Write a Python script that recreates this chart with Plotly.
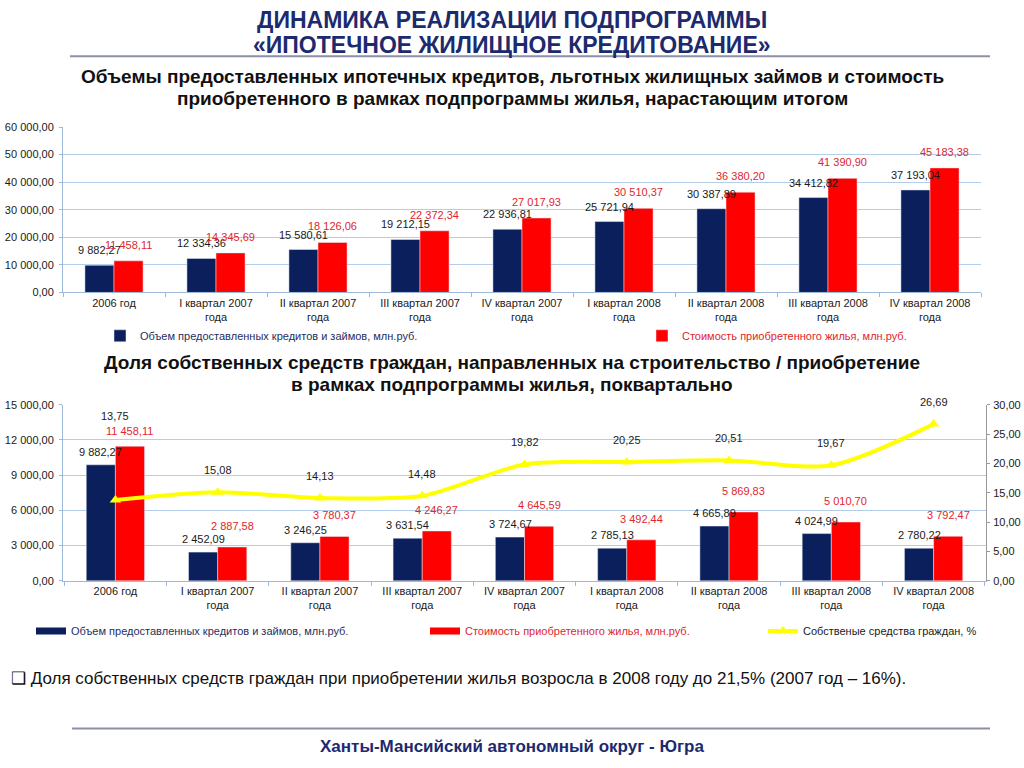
import plotly.graph_objects as go

categories = ["2006 год", "I квартал 2007<br>года", "II квартал 2007<br>года",
              "III квартал 2007<br>года", "IV квартал 2007<br>года",
              "I квартал 2008<br>года", "II квартал 2008<br>года",
              "III квартал 2008<br>года", "IV квартал 2008<br>года"]

# top chart (cumulative)
cum_loans = [9882.27, 12334.36, 15580.61, 19212.15, 22936.81, 25721.94, 30387.89, 34412.82, 37193.04]
cum_housing = [11458.11, 14345.69, 18126.06, 22372.34, 27017.93, 30510.37, 36380.20, 41390.90, 45183.38]

# bottom chart (quarterly)
q_loans = [9882.27, 2452.09, 3246.25, 3631.54, 3724.67, 2785.13, 4665.89, 4024.99, 2780.22]
q_housing = [11458.11, 2887.58, 3780.37, 4246.27, 4645.59, 3492.44, 5869.83, 5010.70, 3792.47]
own_share = [13.75, 15.08, 14.13, 14.48, 19.82, 20.25, 20.51, 19.67, 26.69]

name_loans = "Объем предоставленных кредитов и займов, млн.руб."
name_housing = "Стоимость приобретенного жилья, млн.руб."
name_share = "Собственые средства граждан, %"

NAVY = "#0B1F5C"
RED = "#FF0000"
LABEL_RED = "#E0262E"
YEL = "#FFFF00"
GRID = "#B4CDE8"
AX = "#9DB9DA"
TXT = "#1A1A1A"
TITLE_NAVY = "#1C2A6E"
FONT = "Liberation Sans, Arial, sans-serif"

W, H = 1024, 768


def px(x):
    return x / W


def py(y):
    return 1 - y / H


def fmt(v):
    s = f"{v:,.2f}"
    return s.replace(",", " ").replace(".", ",")


fig = go.Figure()

# ---- top chart
fig.add_trace(go.Bar(x=categories, y=cum_loans, name=name_loans, marker_color=NAVY,
                     xaxis="x", yaxis="y", legend="legend"))
fig.add_trace(go.Bar(x=categories, y=cum_housing, name=name_housing, marker_color=RED,
                     xaxis="x", yaxis="y", legend="legend2"))

# ---- bottom chart
fig.add_trace(go.Bar(x=categories, y=q_loans, name=name_loans, marker_color=NAVY,
                     xaxis="x2", yaxis="y2", showlegend=False))
fig.add_trace(go.Bar(x=categories, y=q_housing, name=name_housing, marker_color=RED,
                     xaxis="x2", yaxis="y2", showlegend=False))
# legend-only entries giving wide rectangle symbols
fig.add_trace(go.Scatter(x=[None], y=[None], mode="lines", line=dict(color=NAVY, width=7),
                         name=name_loans, xaxis="x2", yaxis="y2", legend="legend3"))
fig.add_trace(go.Scatter(x=[None], y=[None], mode="lines", line=dict(color=RED, width=7),
                         name=name_housing, xaxis="x2", yaxis="y2", legend="legend4"))
fig.add_trace(go.Scatter(x=categories, y=own_share, name=name_share, mode="lines+markers",
                         line=dict(color=YEL, width=4, shape="spline", smoothing=0.8),
                         marker=dict(symbol="triangle-up", size=10, color=YEL),
                         xaxis="x2", yaxis="y3", legend="legend5"))

ann = []
# data labels
for i, c in enumerate(categories):
    ann.append(dict(x=c, y=cum_loans[i], xref="x", yref="y", text=fmt(cum_loans[i]),
                    showarrow=False, xshift=-14.5, yshift=15, font=dict(size=11, color=TXT, family=FONT)))
    ann.append(dict(x=c, y=cum_housing[i], xref="x", yref="y", text=fmt(cum_housing[i]),
                    showarrow=False, xshift=14.5, yshift=16, font=dict(size=11, color=LABEL_RED, family=FONT)))
    ann.append(dict(x=c, y=q_loans[i], xref="x2", yref="y2", text=fmt(q_loans[i]),
                    showarrow=False, xshift=-14.5, yshift=13, font=dict(size=11, color=TXT, family=FONT)))
    ann.append(dict(x=c, y=q_housing[i], xref="x2", yref="y2", text=fmt(q_housing[i]),
                    showarrow=False, xshift=14.5, yshift=15 if i == 0 else 21,
                    font=dict(size=11, color=LABEL_RED, family=FONT)))
    ann.append(dict(x=c, y=own_share[i], xref="x2", yref="y3", text=f"{own_share[i]:.2f}".replace(".", ","),
                    showarrow=False, yshift=84 if i == 0 else 22, font=dict(size=11, color=TXT, family=FONT)))


def text_ann(x, y, text, size, color, xanchor="center"):
    return dict(x=px(x), y=py(y), xref="paper", yref="paper", showarrow=False,
                xanchor=xanchor, yanchor="middle", text=text,
                font=dict(size=size, color=color, family=FONT))


ann += [
    text_ann(512, 14, "<b>ДИНАМИКА РЕАЛИЗАЦИИ ПОДПРОГРАММЫ</b>", 23, TITLE_NAVY),
    text_ann(512, 40, "<b>«ИПОТЕЧНОЕ ЖИЛИЩНОЕ КРЕДИТОВАНИЕ»</b>", 23, TITLE_NAVY),
    text_ann(512, 72, "<b>Объемы предоставленных ипотечных кредитов, льготных жилищных займов и стоимость</b>",
             19, "#111111"),
    text_ann(512, 94, "<b>приобретенного в рамках подпрограммы жилья, нарастающим итогом</b>", 19, "#111111"),
    text_ann(512, 362, "<b>Доля собственных средств граждан, направленных на строительство / приобретение</b>",
             19, "#111111"),
    text_ann(512, 385, "<b>в рамках подпрограммы жилья, поквартально</b>", 19, "#111111"),
    text_ann(9, 683, "❑ Доля собственных средств граждан при приобретении жилья возросла в 2008 году до 21,5% "
                     "(2007 год – 16%).", 17, "#111111", xanchor="left"),
    text_ann(512, 752, "<b>Ханты-Мансийский автономный округ - Югра</b>", 17, TITLE_NAVY),
]

shapes = [
    dict(type="line", xref="paper", yref="paper", x0=px(70), x1=px(990),
         y0=py(51), y1=py(51), line=dict(color="#8C90A6", width=2)),
    dict(type="line", xref="paper", yref="paper", x0=px(72), x1=px(990),
         y0=py(734), y1=py(734), line=dict(color="#8C90A6", width=2)),
]

tickfont = dict(size=11, color=TXT, family=FONT)
xcommon = dict(type="category", tickfont=tickfont, showline=True, linecolor=AX, linewidth=1,
               ticks="outside", tickson="boundaries", ticklen=4, tickcolor=AX, showgrid=False)


def legend_cfg(x, y, color):
    return dict(x=px(x), y=py(y), xanchor="left", yanchor="middle", orientation="h",
                bgcolor="rgba(0,0,0,0)", font=dict(size=11, color=color, family=FONT),
                itemwidth=30, tracegroupgap=0)


fig.update_layout(
    width=W, height=H,
    margin=dict(l=0, r=0, t=0, b=0),
    paper_bgcolor="white", plot_bgcolor="rgba(0,0,0,0)",
    separators=", ",
    barmode="group", bargap=0.43, bargroupgap=0,
    font=dict(family=FONT, size=11, color=TXT),
    xaxis=dict(domain=[px(63), px(981)], anchor="y", **xcommon),
    yaxis=dict(domain=[py(291), py(123)], anchor="x", range=[0, 60000], dtick=10000,
               tickformat=",.2f", tickfont=tickfont, showgrid=True, gridcolor=GRID, gridwidth=1,
               showline=True, linecolor=AX, zeroline=False, ticks="outside", ticklen=3, tickcolor=AX,
               ticklabelstandoff=3),
    xaxis2=dict(domain=[px(63), px(986)], anchor="y2", **xcommon),
    yaxis2=dict(domain=[py(584), py(405)], anchor="x2", range=[0, 15000], dtick=3000,
                tickformat=",.2f", tickfont=tickfont, showgrid=True, gridcolor=GRID, gridwidth=1,
                showline=True, linecolor=AX, zeroline=False, ticks="outside", ticklen=3, tickcolor=AX,
                ticklabelstandoff=3),
    yaxis3=dict(anchor="x2", overlaying="y2", side="right", range=[0, 30], dtick=5,
                tickformat=".2f", tickfont=tickfont, showgrid=False, showline=True, linecolor="#999999",
                zeroline=False, ticks="outside", ticklen=3, tickcolor="#999999", ticklabelstandoff=1),
    legend=legend_cfg(100, 335, "#1F2F5F"),
    legend2=legend_cfg(642, 335, LABEL_RED),
    legend3=legend_cfg(31, 635, "#1F2F5F"),
    legend4=legend_cfg(425, 635, LABEL_RED),
    legend5=legend_cfg(763, 635, TXT),
    annotations=ann,
    shapes=shapes,
)

fig.write_html("out.html", config={"displayModeBar": False},
               post_script="document.body.style.margin='0';")
